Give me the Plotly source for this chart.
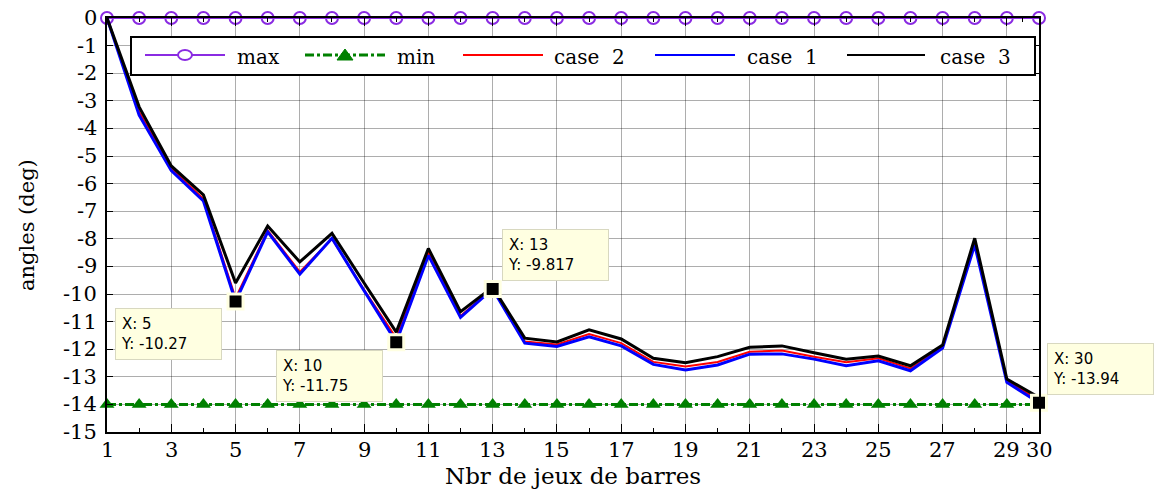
import plotly.graph_objects as go

# ---------------- data ----------------
x_vals = [1, 2, 3, 4, 5, 6, 7, 8, 9, 10, 11, 12, 13, 14, 15,
          16, 17, 18, 19, 20, 21, 22, 23, 24, 25, 26, 27, 28, 29, 30]

max_vals = [0, 0, 0, 0, 0, 0, 0, 0, 0, 0, 0, 0, 0, 0, 0,
            0, 0, 0, 0, 0, 0, 0, 0, 0, 0, 0, 0, 0, 0, 0]

min_vals = [-14, -14, -14, -14, -14, -14, -14, -14, -14, -14, -14, -14, -14, -14, -14,
            -14, -14, -14, -14, -14, -14, -14, -14, -14, -14, -14, -14, -14, -14, -14]

case2_vals = [0, -3.40, -5.45, -6.55, -10.15, -7.70, -9.20, -8.00, -9.85, -11.60,
              -8.50, -10.80, -9.80, -11.72, -11.83, -11.45, -11.78, -12.46, -12.63, -12.46,
              -12.09, -12.05, -12.27, -12.47, -12.33, -12.70, -11.92, -8.15, -13.15, -13.85]

case1_vals = [0, -3.52, -5.53, -6.63, -10.27, -7.75, -9.28, -7.98, -9.88, -11.75,
              -8.60, -10.85, -9.817, -11.78, -11.90, -11.55, -11.88, -12.55, -12.75, -12.57,
              -12.18, -12.17, -12.36, -12.60, -12.42, -12.78, -11.96, -8.22, -13.20, -13.94]

case3_vals = [0, -3.22, -5.36, -6.41, -9.60, -7.54, -8.84, -7.80, -9.60, -11.38,
              -8.35, -10.64, -9.75, -11.60, -11.74, -11.30, -11.63, -12.33, -12.49, -12.27,
              -11.93, -11.88, -12.13, -12.36, -12.25, -12.60, -11.85, -7.98, -13.08, -13.75]

x_tickvals = [1, 3, 5, 7, 9, 11, 13, 15, 17, 19, 21, 23, 25, 27, 29, 30]
x_minor = [2, 4, 6, 8, 10, 12, 14, 16, 18, 20, 22, 24, 26, 28, 29.5]
y_tickvals = [-15, -14, -13, -12, -11, -10, -9, -8, -7, -6, -5, -4, -3, -2, -1, 0]

x_title = "Nbr de jeux de barres"
y_title = "angles (deg)"
tip_x = [5, 10, 13, 30]
legend_names = ["max", "min", "case\u00a0\u00a02", "case\u00a0\u00a01", "case\u00a0\u00a03"]

# ---------------- figure ----------------
W, H = 1154, 490
L, R, T, B = 107, 1039, 18, 432

def pxx(p):
    return (p - L) / (R - L)

def pxy(p):
    return (B - p) / (B - T)

serif = "DejaVu Serif"

fig = go.Figure()

fig.add_trace(go.Scatter(x=x_vals, y=max_vals, mode="lines+markers", name="max",
                         line=dict(color="rgb(138,43,226)", width=2),
                         marker=dict(symbol="circle-open", size=12,
                                     line=dict(color="rgb(138,43,226)", width=2)),
                         cliponaxis=False, showlegend=False))
fig.add_trace(go.Scatter(x=x_vals, y=min_vals, mode="lines+markers", name="min",
                         line=dict(color="rgb(0,128,0)", width=3, dash="dashdot"),
                         marker=dict(symbol="triangle-up", size=13, color="rgb(0,128,0)"),
                         cliponaxis=False, showlegend=False))
fig.add_trace(go.Scatter(x=x_vals, y=case2_vals, mode="lines", name="case 2",
                         line=dict(color="rgb(255,0,0)", width=2), showlegend=False))
fig.add_trace(go.Scatter(x=x_vals, y=case1_vals, mode="lines", name="case 1",
                         line=dict(color="rgb(0,0,255)", width=3), showlegend=False))
fig.add_trace(go.Scatter(x=x_vals, y=case3_vals, mode="lines", name="case 3",
                         line=dict(color="black", width=3), showlegend=False))

tip_y = [case1_vals[x_vals.index(v)] for v in tip_x]
fig.add_trace(go.Scatter(x=tip_x, y=tip_y, mode="markers",
                         marker=dict(symbol="square", size=15, color="black",
                                     line=dict(color="#FFFFE1", width=3)),
                         cliponaxis=False, showlegend=False, hoverinfo="skip"))

# data tips
tip_pos = {5: ("right", "top", -14, -7),
           10: ("right", "top", -13, -8),
           13: ("left", "bottom", 9, 8),
           30: ("left", "bottom", 8, 8)}
for xv, yv in zip(tip_x, tip_y):
    xa, ya, xs, ys = tip_pos[xv]
    fig.add_annotation(x=xv, y=yv, xref="x", yref="y", showarrow=False,
                       text="X: %d<br>Y: %s" % (xv, "{:.4g}".format(yv)),
                       xanchor=xa, yanchor=ya, xshift=xs, yshift=ys,
                       align="left", valign="middle", width=95, height=40,
                       bgcolor="#FFFFE1", bordercolor="#D8D8C0", borderwidth=1,
                       borderpad=5,
                       font=dict(family="DejaVu Sans", size=15, color="black"))

# tick labels (as text placed through the axes' own scales)
for v in x_tickvals:
    fig.add_annotation(x=v, y=0, xref="x", yref="paper", text=str(v),
                       showarrow=False, xanchor="center", yanchor="middle",
                       yshift=-18, font=dict(family=serif, size=21, color="black"))
for v in y_tickvals:
    fig.add_annotation(x=0, y=v, xref="paper", yref="y", text=str(v),
                       showarrow=False, xanchor="right", yanchor="middle",
                       xshift=-8, font=dict(family=serif, size=21, color="black"))

# axis titles
fig.add_annotation(x=0.5, y=0, xref="paper", yref="paper", text=x_title,
                   showarrow=False, xanchor="center", yanchor="middle", yshift=-44,
                   font=dict(family=serif, size=23, color="black"))
fig.add_annotation(x=0, y=0.5, xref="paper", yref="paper", text=y_title,
                   showarrow=False, xanchor="center", yanchor="middle", xshift=-80,
                   textangle=-90, font=dict(family=serif, size=21, color="black"))

# custom legend
shapes = []
shapes.append(dict(type="rect", xref="paper", yref="paper",
                   x0=pxx(131), x1=pxx(1035), y0=pxy(75), y1=pxy(37),
                   fillcolor="white", line=dict(color="black", width=2), layer="above"))
ly = pxy(55)
samples = [(145, 225, "rgb(138,43,226)", 2, "solid"),
           (305, 385, "rgb(0,128,0)", 3, "dashdot"),
           (463, 543, "rgb(255,0,0)", 2, "solid"),
           (655, 735, "rgb(0,0,255)", 2, "solid"),
           (847, 925, "black", 2, "solid")]
for x0, x1, col, wdt, dsh in samples:
    shapes.append(dict(type="line", xref="paper", yref="paper",
                       x0=pxx(x0), x1=pxx(x1), y0=ly, y1=ly,
                       line=dict(color=col, width=wdt, dash=dsh), layer="above"))
shapes.append(dict(type="circle", xref="paper", yref="paper",
                   xsizemode="pixel", ysizemode="pixel",
                   xanchor=pxx(185), yanchor=ly, x0=-7, x1=7, y0=-5, y1=5,
                   fillcolor="white", line=dict(color="rgb(138,43,226)", width=2),
                   layer="above"))
shapes.append(dict(type="path", xref="paper", yref="paper",
                   xsizemode="pixel", ysizemode="pixel",
                   xanchor=pxx(345), yanchor=ly,
                   path="M -8 -5 L 8 -5 L 0 6 Z",
                   fillcolor="rgb(0,128,0)", line=dict(color="rgb(0,128,0)", width=1),
                   layer="above"))

text_x = [235, 395, 552, 745, 938]
for tx, nm in zip(text_x, legend_names):
    fig.add_annotation(x=pxx(tx), y=pxy(57), xref="paper", yref="paper",
                       text=nm, showarrow=False, xanchor="left", yanchor="middle",
                       font=dict(family="DejaVu Serif", size=20, color="black"))

fig.update_layout(
    width=W, height=H,
    margin=dict(l=L, r=W - R, t=T, b=H - B, autoexpand=False),
    paper_bgcolor="white", plot_bgcolor="white",
    shapes=shapes,
    showlegend=False,
    xaxis=dict(range=[1, 30], tickmode="array", tickvals=x_tickvals,
               showticklabels=False,
               ticks="inside", ticklen=8, tickwidth=1, tickcolor="black",
               showline=True, linecolor="black", linewidth=2, mirror="ticks",
               showgrid=True, gridcolor="rgba(0,0,0,0.32)", gridwidth=1,
               zeroline=False, automargin=False),
    xaxis2=dict(range=[1, 30], overlaying="x", anchor="y", side="bottom",
                tickmode="array", tickvals=x_minor, ticks="inside", ticklen=4,
                tickcolor="black", showticklabels=False, showgrid=False,
                zeroline=False, showline=False, mirror="ticks", automargin=False),
    yaxis=dict(range=[-15, 0], tickmode="array", tickvals=y_tickvals,
               showticklabels=False,
               ticks="inside", ticklen=6, tickwidth=1, tickcolor="black",
               showline=True, linecolor="black", linewidth=2, mirror="ticks",
               showgrid=True, gridcolor="rgba(0,0,0,0.32)", gridwidth=1,
               zeroline=False, automargin=False),
)

# invisible trace to activate the minor-tick axis
fig.add_trace(go.Scatter(x=[1], y=[-15], xaxis="x2", yaxis="y", mode="markers",
                         marker=dict(opacity=0), showlegend=False, hoverinfo="skip"))

fig.write_html("out.html")
